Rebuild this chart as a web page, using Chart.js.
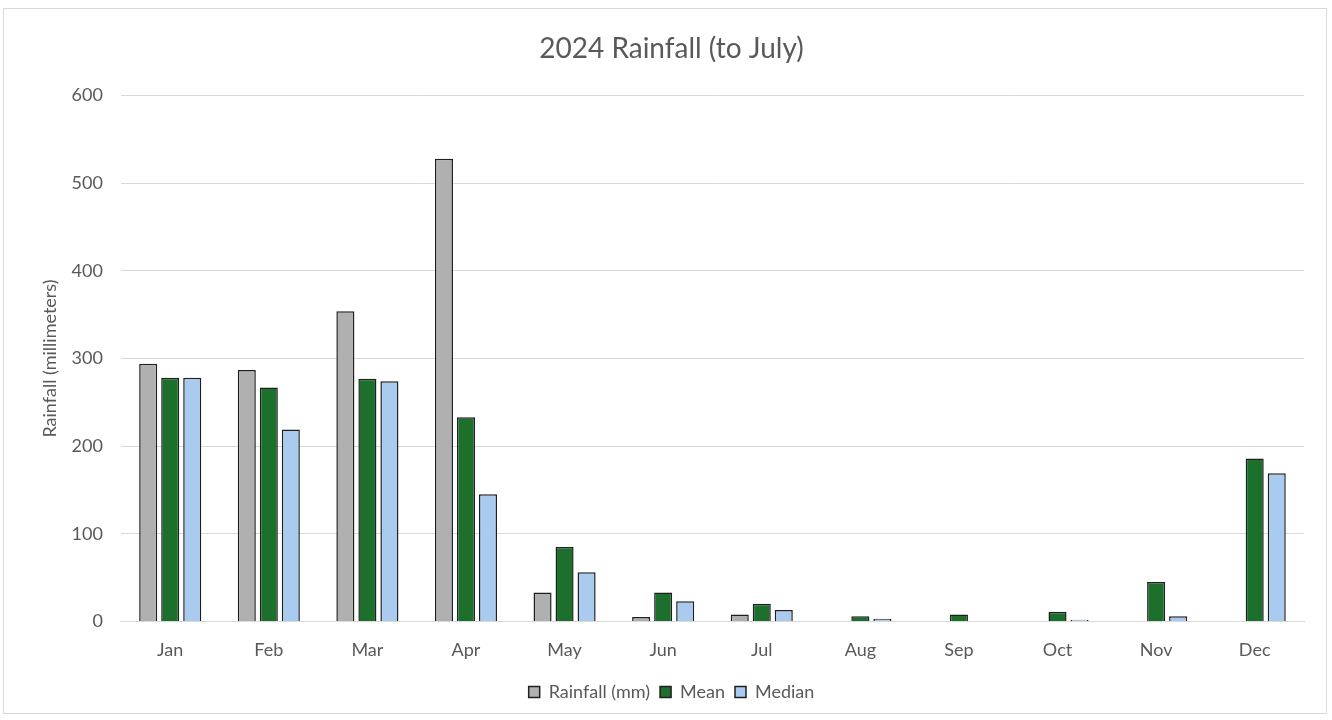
<!DOCTYPE html>
<html>
<head>
<meta charset="utf-8">
<script src="https://cdn.jsdelivr.net/npm/chart.js@4"></script>
<style>
    body { margin: 0; background: #ffffff; }
    .frame {
        position: absolute;
        left: 3px;
        top: 8px;
        width: 1324px;
        height: 706px;
        border: 1px solid #d9d9d9;
        box-sizing: border-box;
    }
</style>
</head>
<body>
<div class="frame"><canvas id="rainChart"></canvas></div>
<script>
const months = ['Jan', 'Feb', 'Mar', 'Apr', 'May', 'Jun', 'Jul', 'Aug', 'Sep', 'Oct', 'Nov', 'Dec'];
const rainfall2024 = [294, 287, 354, 528, 33, 5, 8, null, null, null, null, null];
const meanRain = [278, 267, 277, 233, 85, 33, 20, 6, 8, 11, 45, 186];
const medianRain = [278, 219, 274, 145, 56, 23, 13, 3, 0, 2, 6, 169];
const yTicks = [0, 100, 200, 300, 400, 500, 600];

const textColor = '#595959';
const fontFamily = 'Lato, "Noto Sans", sans-serif';

function barSet(label, data, color) {
    return {
        label: label,
        data: data,
        backgroundColor: color,
        borderColor: '#1f1f1f',
        borderWidth: 1.5,
        borderSkipped: 'bottom',
        categoryPercentage: 0.67,
        barPercentage: 0.82
    };
}

const ctx = document.getElementById('rainChart').getContext('2d');
const chart = new Chart(ctx, {
    type: 'bar',
    data: {
        labels: months,
        datasets: [
            barSet('Rainfall (mm)', rainfall2024, '#b0b0b0'),
            barSet('Mean', meanRain, '#1d6f2c'),
            barSet('Median', medianRain, '#a9cbef')
        ]
    },
    options: {
        responsive: true,
        maintainAspectRatio: false,
        animation: false,
        layout: {
            padding: { left: 35, right: 22, top: 23, bottom: 2 }
        },
        plugins: {
            title: {
                display: true,
                text: '2024 Rainfall (to July)',
                color: textColor,
                font: { family: fontFamily, size: 28, weight: 'normal' },
                padding: { top: 0, bottom: 30 }
            },
            legend: {
                position: 'bottom',
                labels: {
                    color: textColor,
                    font: { family: fontFamily, size: 18 },
                    boxWidth: 11,
                    boxHeight: 11,
                    padding: 10
                }
            },
            tooltip: { enabled: false }
        },
        scales: {
            x: {
                grid: { display: false, drawTicks: false },
                border: { color: '#d9d9d9' },
                ticks: {
                    color: textColor,
                    font: { family: fontFamily, size: 18 },
                    padding: 18
                },
                afterFit: axis => { axis.height -= 6; }
            },
            y: {
                min: 0,
                max: 600,
                afterBuildTicks: axis => {
                    axis.ticks = yTicks.map(v => ({ value: v }));
                },
                afterFit: axis => { axis.width -= 17; },
                grid: { color: '#d9d9d9', lineWidth: 1, drawTicks: false },
                border: { display: false },
                ticks: {
                    color: textColor,
                    font: { family: fontFamily, size: 18 },
                    padding: 18
                },
                title: {
                    display: true,
                    text: 'Rainfall (millimeters)',
                    color: textColor,
                    font: { family: fontFamily, size: 18 },
                    padding: { top: 0, bottom: 10 }
                }
            }
        }
    }
});
</script>
</body>
</html>
